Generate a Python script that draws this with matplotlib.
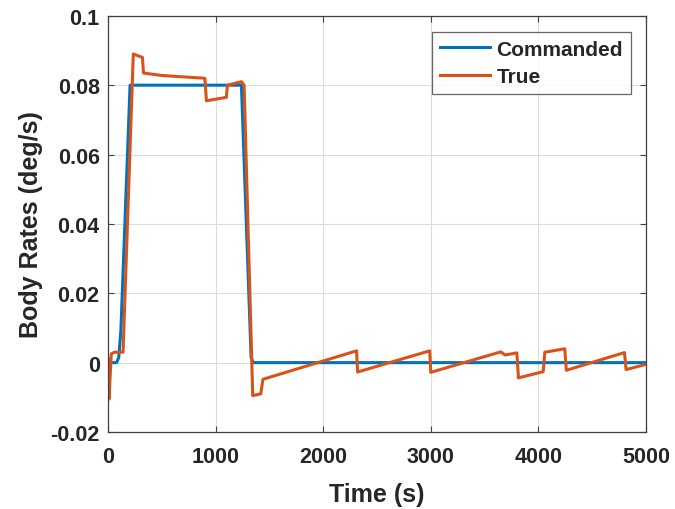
import matplotlib
matplotlib.use("Agg")
import matplotlib.pyplot as plt

# Commanded body rate profile (time in s, rate in deg/s)
cmd_t = [0, 80, 100, 120, 205, 1240, 1330, 1350, 5000]
cmd_v = [0.0, 0.0, 0.0015, 0.0095, 0.080, 0.080, 0.0015, 0.0, 0.0]

# Measured (true) body rate
true_t = [0, 10, 30, 60, 140, 235, 320, 330, 500, 900, 915, 1100, 1110,
          1240, 1265, 1345, 1420, 1440, 2310, 2320, 2990, 3000, 3650, 3690,
          3800, 3815, 4045, 4060, 4245, 4260, 4800, 4815, 5000]
true_v = [0.001, -0.0105, 0.0025, 0.003, 0.003, 0.089, 0.088, 0.0835, 0.0828,
          0.082, 0.0755, 0.0765, 0.080, 0.081, 0.080, -0.0095, -0.009,
          -0.0048, 0.0034, -0.0027, 0.0034, -0.0028, 0.0031, 0.0022, 0.0028,
          -0.0044, -0.0026, 0.003, 0.004, -0.0022, 0.0029, -0.002, -0.0005]

xticks = [0, 1000, 2000, 3000, 4000, 5000]
yticks = [-0.02, 0, 0.02, 0.04, 0.06, 0.08, 0.1]
ytick_labels = ["-0.02", "0", "0.02", "0.04", "0.06", "0.08", "0.1"]

plt.rcParams['font.family'] = ['Liberation Sans', 'DejaVu Sans']
plt.rcParams['font.weight'] = 'bold'

fig = plt.figure(figsize=(6.75, 5.10), dpi=100)
ax = fig.add_axes([0.16, 0.151, 0.797, 0.816])

ax.plot(cmd_t, cmd_v, color='#0072BD', lw=2.2, label='Commanded')
ax.plot(true_t, true_v, color='#D95319', lw=2.2, label='True')

ax.set_xlim(0, 5000)
ax.set_ylim(-0.02, 0.1)
ax.set_xticks(xticks)
ax.set_xticklabels([str(x) for x in xticks])
ax.set_yticks(yticks)
ax.set_yticklabels(ytick_labels)
ax.grid(True, color='#dcdcdc', lw=0.8)
ax.set_axisbelow(True)
ax.tick_params(direction='in', length=4, color='#404040', labelsize=15.5,
               top=True, right=True, labelcolor='#262626')
ax.tick_params(axis='x', pad=10)
ax.tick_params(axis='y', pad=6)
for s in ax.spines.values():
    s.set_color('#404040')
    s.set_linewidth(0.9)

ax.set_xlabel('Time (s)', fontsize=18, fontweight='bold', color='#262626', labelpad=11)
ax.set_ylabel('Body Rates (deg/s)', fontsize=18, fontweight='bold', color='#262626', labelpad=5)

leg = ax.legend(loc='upper right', bbox_to_anchor=(0.972, 0.9615), fontsize=15,
                frameon=True, fancybox=False, handlelength=2.4,
                borderpad=0.38, labelspacing=0.4, handletextpad=0.3,
                borderaxespad=0.0)
leg.get_frame().set_edgecolor('#404040')
leg.get_frame().set_linewidth(0.9)
for t in leg.get_texts():
    t.set_fontweight('bold')
    t.set_color('#262626')

fig.savefig('out.png', dpi=100)
